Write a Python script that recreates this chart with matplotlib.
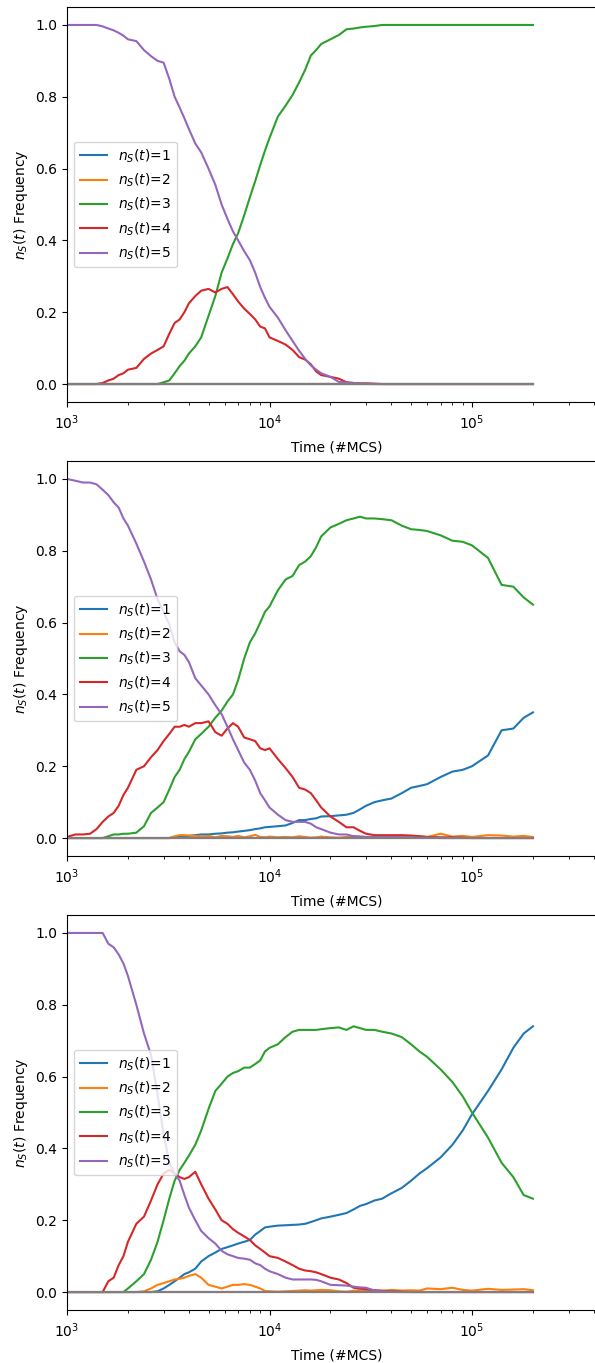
import matplotlib
matplotlib.use('Agg')
import matplotlib.pyplot as plt

# time points (#MCS) shared by all runs
time = [1000, 1100, 1200, 1300, 1400, 1500, 1600, 1700, 1800, 1900,
        2000, 2200, 2400, 2600, 2800, 3000, 3200, 3400, 3600, 3800,
        4000, 4300, 4600, 5000, 5400, 5800, 6200, 6600, 7000, 7500, 8000, 8500, 9000, 9500,
        10000, 11000, 12000, 13000, 14000, 15000, 16000, 17000, 18000,
        20000, 22000, 24000, 26000, 28000, 30000, 33000, 36000, 40000, 45000,
        50000, 55000, 60000, 70000, 80000, 90000, 100000, 120000, 140000, 160000, 180000, 200000]

# states that never appear (drawn as flat lines at zero)
absent = [0.0] * len(time)

# run 1 (top)
top_n1 = [0.0] * len(time)
top_n2 = [0.0] * len(time)
top_n3 = [0, 0, 0, 0, 0, 0, 0, 0, 0, 0,
          0, 0, 0, 0, 0, 0.005, 0.01, 0.03, 0.05, 0.065,
          0.085, 0.105, 0.13, 0.19, 0.245, 0.31, 0.35, 0.39, 0.42, 0.47, 0.52, 0.565, 0.61, 0.65,
          0.685, 0.745, 0.775, 0.805, 0.84, 0.875, 0.915, 0.93, 0.947,
          0.96, 0.972, 0.988, 0.99, 0.993, 0.995, 0.997, 1.0, 1.0, 1.0,
          1.0, 1.0, 1.0, 1.0, 1.0, 1.0, 1.0, 1.0, 1.0, 1.0, 1.0, 1.0]
top_n4 = [0, 0, 0, 0, 0, 0.003, 0.01, 0.015, 0.025, 0.03,
          0.04, 0.045, 0.07, 0.085, 0.095, 0.105, 0.14, 0.17, 0.18, 0.20,
          0.225, 0.245, 0.26, 0.265, 0.255, 0.265, 0.27, 0.25, 0.23, 0.21, 0.195, 0.18, 0.16, 0.155,
          0.13, 0.12, 0.11, 0.095, 0.075, 0.068, 0.055, 0.035, 0.025,
          0.02, 0.015, 0.005, 0.003, 0.002, 0.002, 0.001, 0, 0, 0,
          0, 0, 0, 0, 0, 0, 0, 0, 0, 0, 0, 0]
top_n5 = [1.0, 1.0, 1.0, 1.0, 1.0, 0.996, 0.99, 0.985, 0.978, 0.97,
          0.96, 0.955, 0.93, 0.913, 0.90, 0.895, 0.85, 0.80, 0.77, 0.74,
          0.71, 0.67, 0.645, 0.60, 0.555, 0.50, 0.46, 0.425, 0.40, 0.37, 0.345, 0.31, 0.27, 0.24,
          0.215, 0.185, 0.15, 0.12, 0.093, 0.07, 0.052, 0.04, 0.03,
          0.02, 0.006, 0.004, 0.003, 0.002, 0.001, 0, 0, 0, 0,
          0, 0, 0, 0, 0, 0, 0, 0, 0, 0, 0, 0]

# run 2 (middle)
mid_n1 = [0, 0, 0, 0, 0, 0, 0, 0, 0, 0,
          0, 0, 0, 0, 0, 0, 0, 0.002, 0.004, 0.005,
          0.006, 0.008, 0.01, 0.01, 0.012, 0.013, 0.015, 0.016, 0.018, 0.02, 0.022, 0.025, 0.027, 0.03,
          0.031, 0.033, 0.035, 0.042, 0.05, 0.05, 0.053, 0.055, 0.06,
          0.061, 0.063, 0.065, 0.07, 0.08, 0.09, 0.10, 0.105, 0.11, 0.125,
          0.14, 0.145, 0.15, 0.17, 0.185, 0.19, 0.20, 0.23, 0.30, 0.305, 0.335, 0.35]
mid_n2 = [0, 0, 0, 0, 0, 0, 0, 0, 0, 0,
          0, 0, 0, 0, 0, 0, 0, 0.005, 0.008, 0.008,
          0.007, 0.006, 0.004, 0.006, 0.002, 0.006, 0.005, 0.003, 0.006, 0.002, 0.005, 0.009, 0.003, 0.002,
          0.004, 0.002, 0.003, 0.002, 0.005, 0.003, 0.001, 0.002, 0.004,
          0.002, 0.001, 0.003, 0.006, 0.004, 0.003, 0.002, 0.001, 0.003, 0.002,
          0.004, 0.005, 0.003, 0.012, 0.004, 0.006, 0.003, 0.008, 0.007, 0.004, 0.006, 0.003]
mid_n3 = [0, 0, 0, 0, 0, 0, 0.005, 0.01, 0.01, 0.012,
          0.012, 0.015, 0.033, 0.07, 0.085, 0.10, 0.135, 0.17, 0.19, 0.22,
          0.24, 0.275, 0.29, 0.31, 0.335, 0.355, 0.38, 0.40, 0.44, 0.50, 0.545, 0.57, 0.60, 0.63,
          0.645, 0.69, 0.72, 0.73, 0.76, 0.77, 0.785, 0.81, 0.84,
          0.865, 0.875, 0.885, 0.89, 0.895, 0.89, 0.89, 0.888, 0.885, 0.87,
          0.86, 0.858, 0.855, 0.843, 0.828, 0.825, 0.815, 0.78, 0.705, 0.70, 0.67, 0.65]
mid_n4 = [0.003, 0.01, 0.01, 0.012, 0.025, 0.045, 0.06, 0.07, 0.09, 0.12,
          0.14, 0.19, 0.20, 0.225, 0.245, 0.27, 0.29, 0.31, 0.31, 0.315,
          0.31, 0.32, 0.32, 0.325, 0.295, 0.285, 0.305, 0.32, 0.31, 0.28, 0.275, 0.27, 0.25, 0.245,
          0.25, 0.22, 0.195, 0.17, 0.14, 0.135, 0.125, 0.105, 0.085,
          0.06, 0.045, 0.03, 0.03, 0.02, 0.012, 0.008, 0.008, 0.008, 0.008,
          0.007, 0.005, 0.003, 0.002, 0.002, 0.001, 0, 0, 0, 0, 0, 0]
mid_n5 = [1.0, 0.995, 0.99, 0.99, 0.985, 0.97, 0.955, 0.935, 0.92, 0.89,
          0.87, 0.82, 0.77, 0.72, 0.665, 0.63, 0.595, 0.545, 0.52, 0.51,
          0.49, 0.445, 0.425, 0.40, 0.37, 0.345, 0.31, 0.275, 0.245, 0.21, 0.19, 0.16, 0.125, 0.105,
          0.085, 0.065, 0.05, 0.045, 0.045, 0.045, 0.04, 0.03, 0.025,
          0.015, 0.01, 0.01, 0.005, 0.004, 0.003, 0.003, 0.003, 0.003, 0.002,
          0.002, 0.001, 0.001, 0, 0, 0, 0, 0, 0, 0, 0, 0]

# run 3 (bottom)
bot_n1 = [0, 0, 0, 0, 0, 0, 0, 0, 0, 0,
          0, 0, 0, 0, 0.002, 0.01, 0.02, 0.03, 0.04, 0.05,
          0.055, 0.065, 0.085, 0.10, 0.11, 0.12, 0.125, 0.13, 0.135, 0.14, 0.145, 0.16, 0.17, 0.18,
          0.182, 0.185, 0.186, 0.187, 0.188, 0.19, 0.195, 0.20, 0.205,
          0.21, 0.215, 0.22, 0.23, 0.24, 0.245, 0.255, 0.26, 0.275, 0.29,
          0.31, 0.33, 0.345, 0.375, 0.41, 0.45, 0.495, 0.56, 0.62, 0.68, 0.72, 0.74]
bot_n2 = [0, 0, 0, 0, 0, 0, 0, 0, 0, 0,
          0, 0, 0.002, 0.01, 0.02, 0.025, 0.03, 0.035, 0.037, 0.04,
          0.045, 0.05, 0.04, 0.02, 0.015, 0.01, 0.015, 0.02, 0.02, 0.022, 0.02, 0.015, 0.01, 0.003,
          0.002, 0.001, 0.002, 0.003, 0.004, 0.005, 0.004, 0.005, 0.006,
          0.005, 0.002, 0.001, 0.003, 0.006, 0.005, 0.004, 0.003, 0.006, 0.004,
          0.005, 0.004, 0.01, 0.008, 0.012, 0.006, 0.004, 0.009, 0.006, 0.007, 0.008, 0.005]
bot_n3 = [0, 0, 0, 0, 0, 0, 0, 0, 0, 0,
          0.01, 0.03, 0.05, 0.09, 0.14, 0.20, 0.26, 0.31, 0.34, 0.36,
          0.38, 0.41, 0.45, 0.51, 0.56, 0.58, 0.60, 0.61, 0.615, 0.625, 0.625, 0.635, 0.645, 0.67,
          0.68, 0.69, 0.71, 0.725, 0.73, 0.73, 0.73, 0.73, 0.732,
          0.735, 0.737, 0.73, 0.74, 0.735, 0.73, 0.73, 0.725, 0.72, 0.71,
          0.69, 0.67, 0.655, 0.62, 0.585, 0.545, 0.50, 0.43, 0.36, 0.32, 0.27, 0.26]
bot_n4 = [0, 0, 0, 0, 0, 0, 0.03, 0.04, 0.075, 0.10,
          0.14, 0.19, 0.21, 0.255, 0.30, 0.33, 0.34, 0.33, 0.32, 0.315,
          0.32, 0.335, 0.30, 0.26, 0.23, 0.20, 0.19, 0.175, 0.165, 0.155, 0.145, 0.13, 0.12, 0.11,
          0.10, 0.095, 0.085, 0.075, 0.065, 0.06, 0.058, 0.055, 0.05,
          0.04, 0.035, 0.025, 0.012, 0.01, 0.008, 0.005, 0.004, 0.002, 0.001,
          0, 0, 0, 0, 0, 0, 0, 0, 0, 0, 0, 0]
bot_n5 = [1.0, 1.0, 1.0, 1.0, 1.0, 1.0, 0.97, 0.96, 0.94, 0.915,
          0.88, 0.80, 0.72, 0.66, 0.55, 0.44, 0.36, 0.33, 0.31, 0.27,
          0.235, 0.20, 0.17, 0.15, 0.135, 0.115, 0.105, 0.10, 0.095, 0.093, 0.09, 0.08, 0.075, 0.065,
          0.058, 0.05, 0.04, 0.035, 0.035, 0.035, 0.035, 0.034, 0.03,
          0.02, 0.019, 0.018, 0.015, 0.013, 0.012, 0.004, 0.002, 0.001, 0,
          0, 0, 0, 0, 0, 0, 0, 0, 0, 0, 0, 0]

runs = [[top_n1, top_n2, top_n3, top_n4, top_n5],
        [mid_n1, mid_n2, mid_n3, mid_n4, mid_n5],
        [bot_n1, bot_n2, bot_n3, bot_n4, bot_n5]]

fig = plt.figure(figsize=(5.95, 13.63), dpi=100)

# axes placed in pixels (top edge of each panel); right edge runs past the figure
tops = [7, 461, 915]
for run, top in zip(runs, tops):
    ax = fig.add_axes([67 / 595, 1 - (top + 395) / 1363, 540 / 595, 395 / 1363])
    for k, vals in enumerate(run):
        ax.plot(time, vals, label=f'$n_S(t)$={k + 1}')
    for c in ['tab:brown', 'tab:pink', 'tab:gray']:
        ax.plot(time, absent, color=c)
    ax.set_xscale('log')
    ax.set_xlim(1e3, 10 ** (3 + 540 / 202.5))
    ax.set_ylim(-0.05, 1.05)
    ax.tick_params(axis='x', pad=5)
    ax.set_xlabel('Time (#MCS)', labelpad=6)
    ax.set_ylabel('$n_S(t)$ Frequency')
    ax.legend(loc='center left')

fig.savefig('out.png', dpi=100)
